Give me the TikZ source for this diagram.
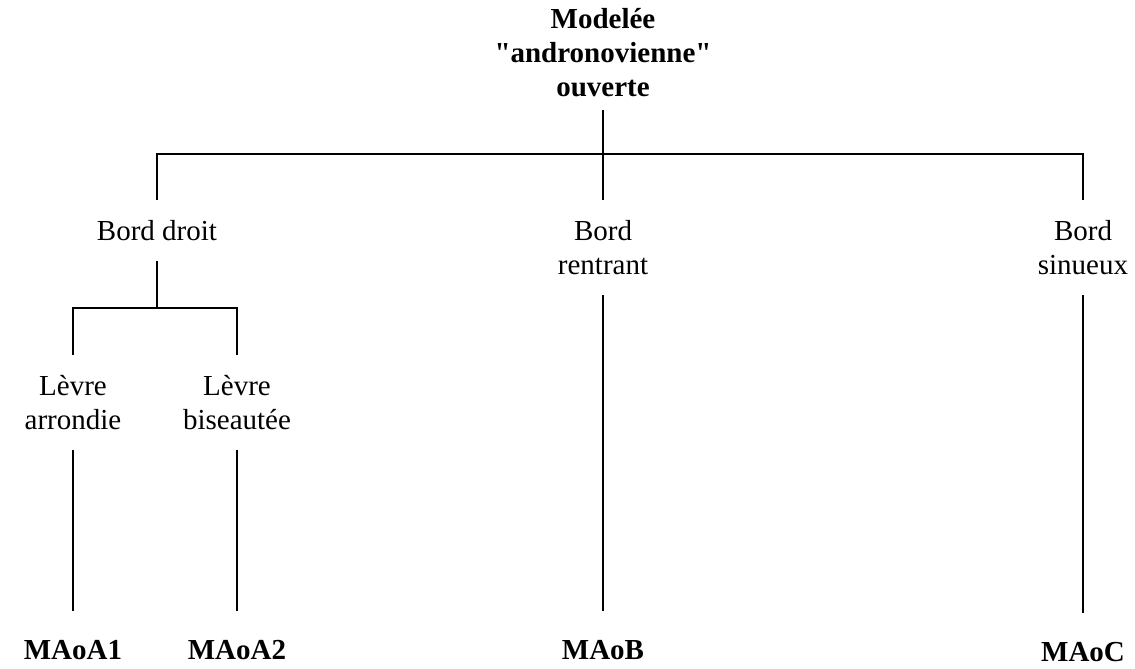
\documentclass[tikz,border=0pt]{standalone}
\usepackage{fontspec}
\setmainfont{Liberation Serif}[Ligatures=TeXOff]
\usetikzlibrary{calc}
\tikzset{
  branch/.style={draw=black,line width=1pt},
  txt/.style={align=center,inner xsep=0pt,font=\fontsize{14.5}{17}\selectfont},
  root/.style={txt,inner ysep=6.5pt,font=\fontsize{14.5}{17}\selectfont\bfseries},
  kind/.style={txt,inner ysep=10pt},
  leaf/.style={txt,inner ysep=14.5pt,font=\fontsize{14.5}{17}\selectfont\bfseries}
}
\begin{document}
\begin{tikzpicture}[x=0.5pt,y=-0.5pt]
  \useasboundingbox (0,0) rectangle (1135,669);
  % type and its three rims
  \node[root,anchor=south] (modele) at (603,110) {Modelée\\"andronovienne"\\ouverte};
  \node[kind,anchor=north] (droit) at (157,200) {Bord droit};
  \node[kind,anchor=north] (rentrant) at (603,200) {Bord\\rentrant};
  \node[kind,anchor=north] (sinueux) at (1083,200) {Bord\\sinueux};
  % lips of the straight rim
  \node[kind,anchor=north] (arrondie) at (73,355) {Lèvre\\arrondie};
  \node[kind,anchor=north] (biseau) at (237,355) {Lèvre\\biseautée};
  % codes
  \node[leaf,anchor=north] (mA1) at (73,611) {MAoA1};
  \node[leaf,anchor=north] (mA2) at (237,611) {MAoA2};
  \node[leaf,anchor=north] (mB) at (603,611) {MAoB};
  \node[leaf,anchor=north] (mC) at (1083,613) {MAoC};
  \coordinate (hub) at (603,154);
  \coordinate (fork) at (157,308);
  \draw[branch] (modele.south) -- (hub);
  \draw[branch] (droit.north) |- (hub) -| (sinueux.north);
  \draw[branch] (hub) -- (rentrant.north);
  \draw[branch] (droit.south) -- (fork);
  \draw[branch] (arrondie.north) |- (fork) -| (biseau.north);
  \draw[branch] (arrondie.south) -- (mA1.north);
  \draw[branch] (biseau.south) -- (mA2.north);
  \draw[branch] (rentrant.south) -- (mB.north);
  \draw[branch] (sinueux.south) -- (mC.north);
\end{tikzpicture}
\end{document}
